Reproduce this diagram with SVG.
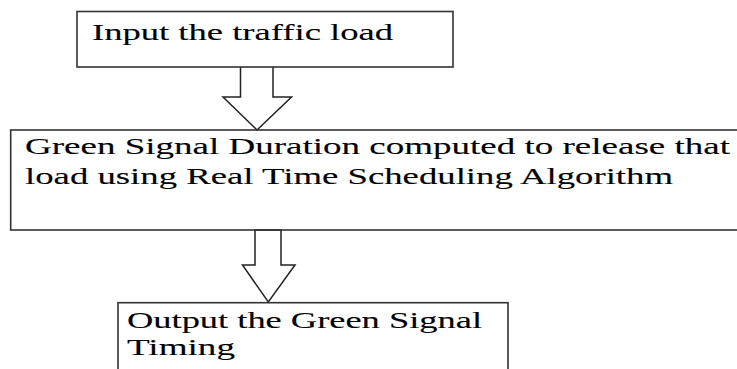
<svg xmlns="http://www.w3.org/2000/svg" width="737" height="369" viewBox="0 0 737 369">
<style>
.box{fill:none;stroke:#333;stroke-width:1.6}
.arrow{fill:#fff;stroke:#222;stroke-width:1.5;stroke-linejoin:miter}
text{font-family:"Liberation Serif","Times New Roman",serif;font-size:24px;fill:#000;stroke:#000;stroke-width:0.12}
</style>
<rect width="737" height="369" fill="#fff"/>
<g id="connectors">
<path class="arrow" d="M240.5,67 L240.5,97 L223,97 L257,130 L291.5,97 L273,97 L273,67"/>
<path class="arrow" d="M255,230 L255,265 L242.5,265 L268.3,302 L295,265 L281,265 L281,230 Z"/>
</g>
<g id="node-input">
<rect class="box" x="77" y="11.5" width="376" height="55.5"/>
<text x="92" y="39.5" textLength="301" lengthAdjust="spacingAndGlyphs">Input the traffic load</text>
</g>
<g id="node-compute">
<rect class="box" x="10.7" y="130" width="740" height="100"/>
<text x="25" y="153.5" textLength="705" lengthAdjust="spacingAndGlyphs">Green Signal Duration computed to release that</text>
<text x="25" y="183.5" textLength="648" lengthAdjust="spacingAndGlyphs">load using Real Time Scheduling Algorithm</text>
</g>
<g id="node-output">
<rect class="box" x="118" y="302.7" width="390" height="80"/>
<text x="127" y="328" textLength="355" lengthAdjust="spacingAndGlyphs">Output the Green Signal</text>
<text x="127" y="354.5" textLength="108" lengthAdjust="spacingAndGlyphs">Timing</text>
</g>
</svg>
